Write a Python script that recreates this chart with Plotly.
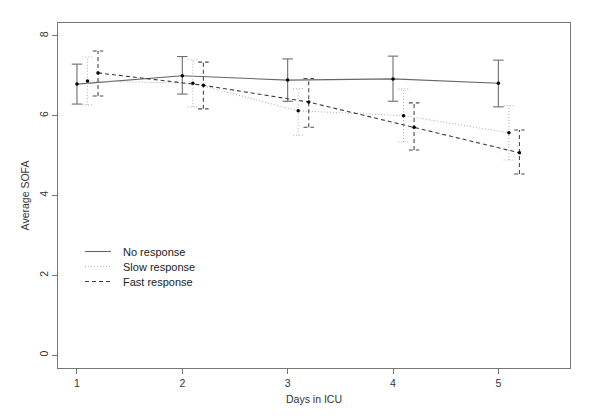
import plotly.graph_objects as go

days = [1, 2, 3, 4, 5]
series_names = ["No response", "Slow response", "Fast response"]
offsets = [0.0, 0.1, 0.2]

no_mean = [6.79, 7.00, 6.89, 6.92, 6.81]
no_low = [6.29, 6.54, 6.36, 6.36, 6.22]
no_high = [7.29, 7.48, 7.42, 7.49, 7.39]

slow_mean = [6.87, 6.81, 6.12, 6.00, 5.57]
slow_low = [6.27, 6.22, 5.51, 5.34, 4.89]
slow_high = [7.47, 7.40, 6.68, 6.67, 6.25]

fast_mean = [7.07, 6.76, 6.34, 5.71, 5.07]
fast_low = [6.49, 6.17, 5.71, 5.14, 4.54]
fast_high = [7.62, 7.34, 6.93, 6.32, 5.64]

x_ticks = [1, 2, 3, 4, 5]
y_ticks = [0, 2, 4, 6, 8]

means = [no_mean, slow_mean, fast_mean]
lows = [no_low, slow_low, fast_low]
highs = [no_high, slow_high, fast_high]
line_colors = ["#666666", "#b0b0b0", "#3a3a3a"]
bar_colors = ["#6e6e6e", "#b5b5b5", "#4a4a4a"]
dashes = ["solid", "1px,2px", "4px,3px"]
cap = 0.05

# plot box in pixels (for the hand-placed legend)
L, R, T, B = 58, 570, 23, 368
W, H = 600, 416

fig = go.Figure()
for name, off, m, lo, hi, lc, bc, dsh in zip(series_names, offsets, means, lows, highs,
                                             line_colors, bar_colors, dashes):
    xs = [d + off for d in days]
    ex, ey = [], []
    for x, l, h in zip(xs, lo, hi):
        ex += [x, x, None, x - cap, x + cap, None, x - cap, x + cap, None]
        ey += [l, h, None, l, l, None, h, h, None]
    fig.add_trace(go.Scatter(x=ex, y=ey, mode="lines", showlegend=False,
                             line=dict(color=bc, width=1.1, dash=dsh),
                             hoverinfo="skip"))
    fig.add_trace(go.Scatter(x=xs, y=m, mode="lines", name=name, showlegend=False,
                             line=dict(color=lc, width=1.1, dash=dsh)))
    fig.add_trace(go.Scatter(x=xs, y=m, mode="markers", showlegend=False,
                             marker=dict(color="#000000", size=3.5)))

# legend drawn as keys + labels
legend_rows_px = [251.5, 266.5, 281.5]
for name, lc, dsh, py in zip(series_names, line_colors, dashes, legend_rows_px):
    yp = (B - py) / (B - T)
    fig.add_shape(type="line", xref="paper", yref="paper",
                  x0=(85 - L) / (R - L), x1=(111 - L) / (R - L), y0=yp, y1=yp,
                  line=dict(color=lc, width=1.1, dash=dsh))
    fig.add_annotation(xref="paper", yref="paper", x=(121 - L) / (R - L), y=yp,
                       text=name, showarrow=False, xanchor="left", yanchor="middle",
                       font=dict(size=11, color="#222222"))

axis_common = dict(showline=True, linecolor="#777777", linewidth=1, mirror=True,
                   ticks="outside", ticklen=5, tickcolor="#777777", showgrid=False,
                   zeroline=False, automargin=False,
                   tickfont=dict(size=10.5, color="#333333"))

fig.update_layout(
    width=W, height=H,
    margin=dict(l=L, r=W - R, t=T, b=H - B, autoexpand=False),
    paper_bgcolor="white", plot_bgcolor="white",
    font=dict(family="Liberation Sans, Arial, sans-serif", color="#333333"),
    xaxis=dict(range=[0.82, 5.68], tickvals=x_ticks,
               title=dict(text="Days in ICU", font=dict(size=10.5), standoff=8),
               **axis_common),
    yaxis=dict(range=[-0.32, 8.32], tickvals=y_ticks, tickangle=-90,
               title=dict(text="Average SOFA", font=dict(size=10.5), standoff=6),
               **axis_common),
    showlegend=False,
)

fig.write_html("out.html", config={"displayModeBar": False},
               post_script="document.body.style.margin='0';")
